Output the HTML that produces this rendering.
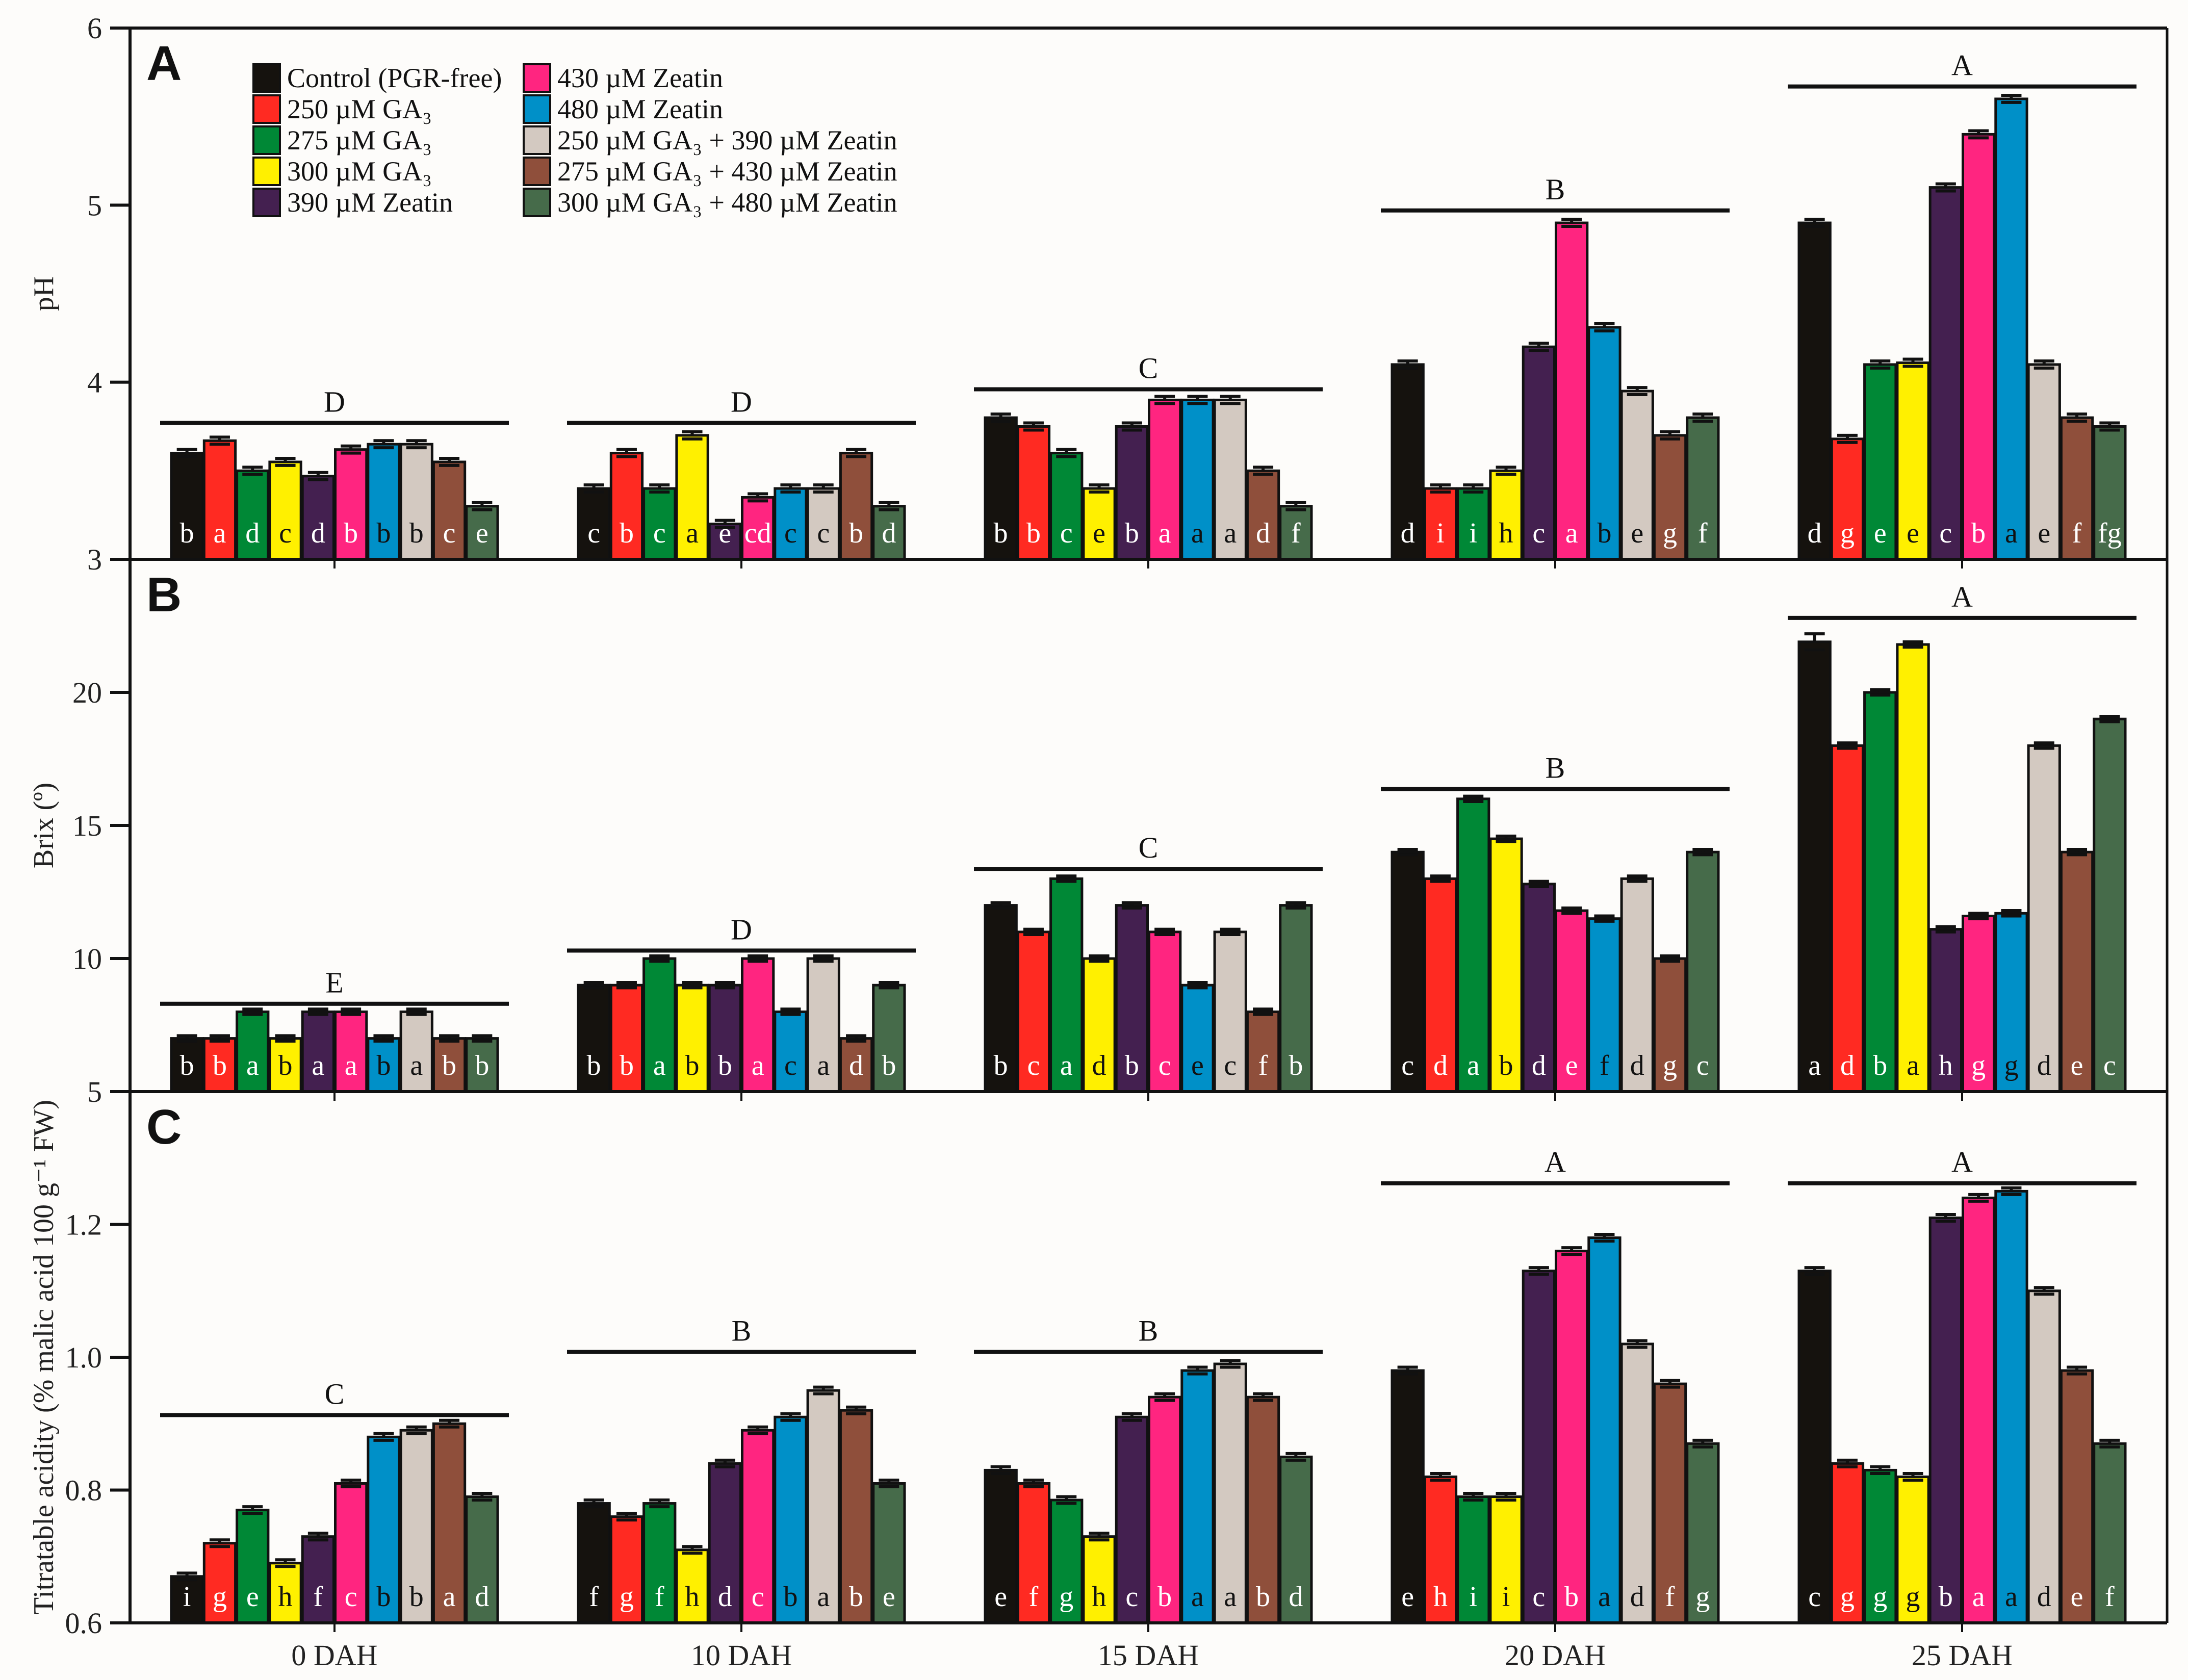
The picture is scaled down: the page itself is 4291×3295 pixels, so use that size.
<!DOCTYPE html>
<html><head><meta charset="utf-8"><style>
html,body{margin:0;padding:0;background:#fdfcfa;}
svg{display:block;font-family:"Liberation Serif",serif;}
</style></head><body>
<svg id="chart" width="4291" height="3295" viewBox="0 0 4291 3295" xmlns="http://www.w3.org/2000/svg">
<rect x="0" y="0" width="4291" height="3295" fill="#fdfcfa"/>
<g id="plots"></g>
<g id="frame"></g>
<g id="legend"></g>
</svg>
<script>
const categories = ["0 DAH","10 DAH","15 DAH","20 DAH","25 DAH"];
const seriesNames = ["Control (PGR-free)","250 µM GA₃","275 µM GA₃","300 µM GA₃","390 µM Zeatin","430 µM Zeatin","480 µM Zeatin","250 µM GA₃ + 390 µM Zeatin","275 µM GA₃ + 430 µM Zeatin","300 µM GA₃ + 480 µM Zeatin"];
const seriesColors = ["#15120e","#ff2a22","#008836","#fff000","#442050","#ff2580","#0090c8","#d3c9c1","#8f4f3b","#466b4a"];
const letterDark = [false,false,false,true,false,false,true,true,false,false];

const phValues = [
 [3.6,3.67,3.5,3.55,3.47,3.62,3.65,3.65,3.55,3.3],
 [3.4,3.6,3.4,3.7,3.2,3.35,3.4,3.4,3.6,3.3],
 [3.8,3.75,3.6,3.4,3.75,3.9,3.9,3.9,3.5,3.3],
 [4.1,3.4,3.4,3.5,4.2,4.9,4.31,3.95,3.7,3.8],
 [4.9,3.68,4.1,4.11,5.1,5.4,5.6,4.1,3.8,3.75]];
const phLetters = [
 ["b","a","d","c","d","b","b","b","c","e"],
 ["c","b","c","a","e","cd","c","c","b","d"],
 ["b","b","c","e","b","a","a","a","d","f"],
 ["d","i","i","h","c","a","b","e","g","f"],
 ["d","g","e","e","c","b","a","e","f","fg"]];
const phGroupLetters = ["D","D","C","B","A"];
const phGroupLine = [3.77,3.77,3.96,4.97,5.67];
const phTicks = [3,4,5,6];

const brixValues = [
 [7,7,8,7,8,8,7,8,7,7],
 [9,9,10,9,9,10,8,10,7,9],
 [12,11,13,10,12,11,9,11,8,12],
 [14,13,16,14.5,12.8,11.8,11.5,13,10,14],
 [21.9,18,20,21.8,11.1,11.6,11.7,18,14,19]];
const brixLetters = [
 ["b","b","a","b","a","a","b","a","b","b"],
 ["b","b","a","b","b","a","c","a","d","b"],
 ["b","c","a","d","b","c","e","c","f","b"],
 ["c","d","a","b","d","e","f","d","g","c"],
 ["a","d","b","a","h","g","g","d","e","c"]];
const brixGroupLetters = ["E","D","C","B","A"];
const brixGroupLine = [8.3,10.3,13.37,16.37,22.8];
const brixTicks = [5,10,15,20];

const taValues = [
 [0.67,0.72,0.77,0.69,0.73,0.81,0.88,0.89,0.90,0.79],
 [0.78,0.76,0.78,0.71,0.84,0.89,0.91,0.95,0.92,0.81],
 [0.83,0.81,0.785,0.73,0.91,0.94,0.98,0.99,0.94,0.85],
 [0.98,0.82,0.79,0.79,1.13,1.16,1.18,1.02,0.96,0.87],
 [1.13,0.84,0.83,0.82,1.21,1.24,1.25,1.10,0.98,0.87]];
const taLetters = [
 ["i","g","e","h","f","c","b","b","a","d"],
 ["f","g","f","h","d","c","b","a","b","e"],
 ["e","f","g","h","c","b","a","a","b","d"],
 ["e","h","i","i","c","b","a","d","f","g"],
 ["c","g","g","g","b","a","a","d","e","f"]];
const taGroupLetters = ["C","B","B","A","A"];
const taGroupLine = [0.913,1.008,1.008,1.262,1.262];
const taTicks = ["0.6","0.8","1.0","1.2"];

const NS = "http://www.w3.org/2000/svg";
function mk(tag, attrs, parent){const e=document.createElementNS(NS,tag);for(const k in attrs)e.setAttribute(k,attrs[k]);parent.appendChild(e);return e;}
const plots=document.getElementById('plots');
const frame=document.getElementById('frame');
const legend=document.getElementById('legend');
const AXL=255, AXR=4250, C0=656, CSTEP=798, BW=64.3;
function xCenter(ci,si){return C0+(ci-(categories.length-1)/2)*0+ci*CSTEP + (si-4.5)*BW;}

const panels=[
 {key:"ph",label:"A",title:"pH",top:55,bot:1097,min:3,max:6,vals:phValues,lets:phLetters,gl:phGroupLetters,gline:phGroupLine,ticks:phTicks,err:0.02},
 {key:"brix",label:"B",title:"Brix (º)",top:1097,bot:2141,min:5,max:25,vals:brixValues,lets:brixLetters,gl:brixGroupLetters,gline:brixGroupLine,ticks:brixTicks,err:0.1},
 {key:"ta",label:"C",title:"Titratable acidity (% malic acid 100 g⁻¹ FW)",top:2141,bot:3183,min:0.6,max:1.4,vals:taValues,lets:taLetters,gl:taGroupLetters,gline:taGroupLine,ticks:taTicks,err:0.005}
];

panels.forEach(p=>{
 const y=v=>p.bot-(v-p.min)/(p.max-p.min)*(p.bot-p.top);
 const g=mk('g',{},plots);
 
 
 p.vals.forEach((row,ci)=>{
  row.forEach((v,si)=>{
   const xc=xCenter(ci,si), x0=xc-BW/2, yt=y(v);
   const r=mk('rect',{x:x0+1.5,y:yt,width:BW-3,height:p.bot-yt,fill:seriesColors[si],stroke:"#111",'stroke-width':5},g);
   
   
   const e=p.err*(si===0&&ci===4&&p.key==="brix"?3:1);
   const eb=mk('path',{d:`M${xc-20},${y(v+e)}H${xc+20}M${xc},${y(v+e)}V${yt}M${xc-20},${y(v-e)}H${xc+20}`,stroke:"#111",'stroke-width':6,fill:"none"},g);
   
   
   const t=mk('text',{x:xc,y:p.bot-33,'text-anchor':'middle','font-size':56,fill:letterDark[si]?"#111":"#fff"},g);
   t.textContent=p.lets[ci][si];
   
   
  });
  const gy=y(p.gline[ci]);
  const ln=mk('line',{x1:C0+ci*CSTEP-342,x2:C0+ci*CSTEP+342,y1:gy,y2:gy,stroke:"#111",'stroke-width':8},g);
  
  
  const gt=mk('text',{x:C0+ci*CSTEP,y:gy-22,'text-anchor':'middle','font-size':58,fill:"#111"},g);
  gt.textContent=p.gl[ci];
  
  
 });
 p.ticks.forEach(tv=>{
  const ty=y(parseFloat(tv));
  const tk=mk('line',{x1:216,x2:AXL,y1:ty,y2:ty,stroke:"#111",'stroke-width':6},frame);
  
  
  const tl=mk('text',{x:200,y:ty+20,'text-anchor':'end','font-size':58,fill:"#222"},frame);
  tl.textContent=tv;
  
  
 });
 categories.forEach((c,ci)=>{
  const tk=mk('line',{x1:C0+ci*CSTEP,x2:C0+ci*CSTEP,y1:p.bot,y2:p.bot+18,stroke:"#111",'stroke-width':4},frame);
  
  
 });
 const hl=mk('line',{x1:216,x2:AXR,y1:p.top,y2:p.top,stroke:"#111",'stroke-width':6},frame);
 
 
 const pl=mk('text',{x:287,y:p.top+102,'font-size':96,'font-weight':'bold','font-family':'Liberation Sans, sans-serif',fill:"#111"},frame);
 pl.textContent=p.label;
 
 
 const cy=(p.top+p.bot)/2;
 const yt=mk('text',{x:0,y:0,'text-anchor':'middle','font-size':56,fill:"#222",transform:`translate(104,${cy}) rotate(-90)`},frame);
 yt.textContent=p.title;
 
 
});
const bl=mk('line',{x1:216,x2:AXR,y1:3183,y2:3183,stroke:"#111",'stroke-width':6},frame);


const vl=mk('line',{x1:AXL,x2:AXL,y1:55,y2:3183,stroke:"#111",'stroke-width':6},frame);


const rl=mk('line',{x1:AXR,x2:AXR,y1:55,y2:3183,stroke:"#111",'stroke-width':5},frame);


categories.forEach((c,ci)=>{
 const t=mk('text',{x:C0+ci*CSTEP,y:3266,'text-anchor':'middle','font-size':58,fill:"#222"},frame);
 t.textContent=c;
 
 
});
seriesNames.forEach((n,i)=>{
 const col=Math.floor(i/5), row=i%5;
 const sx=col?1027:497, ty=126+row*61;
 const g=mk('g',{},legend);
 
 
 mk('rect',{x:sx,y:ty,width:52,height:54,fill:seriesColors[i],stroke:"#111",'stroke-width':4},g);
 const t=mk('text',{x:sx+66,y:ty+45,'font-size':54,fill:"#111"},g);
 t.textContent=n;
});
</script>
</body></html>
